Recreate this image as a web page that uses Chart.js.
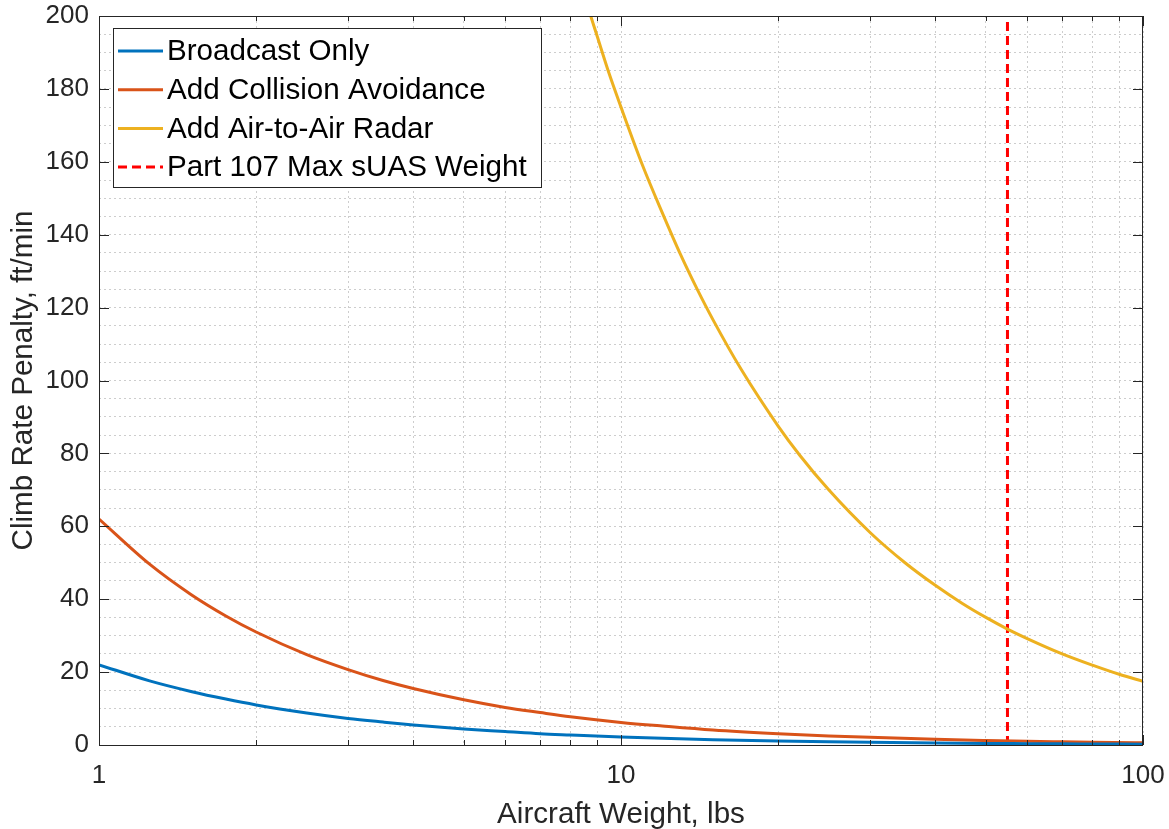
<!DOCTYPE html>
<html>
<head>
<meta charset="utf-8">
<script src="https://cdn.jsdelivr.net/npm/chart.js@4/dist/chart.umd.min.js"></script>
<style>
html,body{margin:0;padding:0;background:#fff;}
#wrap{width:1169px;height:829px;position:relative;}
</style>
</head>
<body>
<div id="wrap"><canvas id="c" width="1169" height="829"></canvas></div>
<script>
// Data
const seriesLabels = ['Broadcast Only','Add Collision Avoidance','Add Air-to-Air Radar','Part 107 Max sUAS Weight'];
const weightsLow = [1,1.25,1.5,1.75,2,2.5,3,3.5,4,5,6,7,8,10,12,15,20,25,30,40,50,60,70,80,100];
const broadcastOnly = [22,17.6,14.7,12.6,11,8.8,7.3,6.3,5.5,4.4,3.7,3.1,2.75,2.2,1.83,1.47,1.1,0.88,0.73,0.55,0.44,0.37,0.31,0.28,0.22];
const collisionAvoid = [62,49.6,41.3,35.4,31,24.8,20.7,17.7,15.5,12.4,10.3,8.9,7.75,6.2,5.2,4.1,3.1,2.5,2.1,1.55,1.24,1.03,0.89,0.78,0.62];
const weightsRadar = [8.75,9,9.5,10,11,12,13,14,15,17,20,22,25,30,35,40,45,50,55,60,70,80,90,100];
const airRadar = [200,194.5,184,175,159,146,134.6,125,116.7,103,87.5,79.5,70,58.3,50,43.8,38.9,35,31.8,29.2,25,21.9,19.4,17.5];
const maxWeightX = [55,55];
const maxWeightY = [0,200];
const xTickLabels = [1,10,100];
const yMajorStep = 20;
const colors = ['#0072BD','#D95319','#EDB120','#FF0000'];

const FONT = '"Liberation Sans", Arial, Helvetica, sans-serif';
const TXT = '#262626';
const GRID = '#cdcdcd';

function pts(xs, ys){ return xs.map((x,i)=>({x:x,y:ys[i]})); }

const xGridTicks = [];
[1,10].forEach(d=>{ for(let k=1;k<10;k++) xGridTicks.push(k*d); });
xGridTicks.push(100);

function zeroPad(s){ s.paddingLeft=0; s.paddingRight=0; s.paddingTop=0; s.paddingBottom=0; }

const boxTicks = {
  id:'boxTicks',
  afterDatasetsDraw(chart){
    const ctx = chart.ctx, a = chart.chartArea;
    const xs = chart.scales.x, ys = chart.scales.y;
    ctx.save();
    ctx.strokeStyle = TXT; ctx.lineWidth = 1;
    ctx.strokeRect(Math.round(a.left)+0.5, Math.round(a.top)+0.5, Math.round(a.right-a.left)-1, Math.round(a.bottom-a.top));
    ctx.beginPath();
    xGridTicks.forEach(v=>{
      const px = Math.round(xs.getPixelForValue(v))+0.5;
      const len = xTickLabels.includes(v) ? 10 : 5;
      ctx.moveTo(px, a.bottom); ctx.lineTo(px, a.bottom-len);
      ctx.moveTo(px, a.top); ctx.lineTo(px, a.top+len);
    });
    for(let v=0; v<=200; v+=yMajorStep){
      const py = Math.round(ys.getPixelForValue(v))+0.5;
      ctx.moveTo(a.left, py); ctx.lineTo(a.left+10, py);
      ctx.moveTo(a.right, py); ctx.lineTo(a.right-10, py);
    }
    ctx.stroke();
    // legend
    const lx=113, ly=28, lw=428, lh=159;
    ctx.fillStyle='#fff';
    ctx.fillRect(lx,ly,lw,lh);
    ctx.strokeStyle=TXT; ctx.lineWidth=1;
    ctx.strokeRect(lx+0.5,ly+0.5,lw,lh);
    ctx.font = '29.6px '+FONT;
    ctx.textBaseline='middle'; ctx.textAlign='left';
    chart.data.datasets.forEach((ds,i)=>{
      const y = 51 + i*38.7;
      ctx.strokeStyle = ds.borderColor; ctx.lineWidth = 3;
      ctx.setLineDash(ds.borderDash || []);
      ctx.beginPath(); ctx.moveTo(118,y); ctx.lineTo(163,y); ctx.stroke();
      ctx.setLineDash([]);
      ctx.fillStyle='#000';
      ctx.fillText(ds.label, 167, y+1);
    });
    ctx.restore();
  }
};

new Chart(document.getElementById('c'), {
  type:'line',
  data:{
    datasets:[
      {label:seriesLabels[0], data:pts(weightsLow,broadcastOnly), borderColor:colors[0], borderWidth:3, pointRadius:0, cubicInterpolationMode:'monotone', fill:false},
      {label:seriesLabels[1], data:pts(weightsLow,collisionAvoid), borderColor:colors[1], borderWidth:3, pointRadius:0, cubicInterpolationMode:'monotone', fill:false},
      {label:seriesLabels[2], data:pts(weightsRadar,airRadar), borderColor:colors[2], borderWidth:3, pointRadius:0, cubicInterpolationMode:'monotone', fill:false},
      {label:seriesLabels[3], data:pts(maxWeightX,maxWeightY), borderColor:colors[3], borderWidth:3, borderDash:[9,5], pointRadius:0, fill:false}
    ]
  },
  options:{
    responsive:false, animation:false,
    layout:{padding:{top:16,right:26,left:0,bottom:0}},
    plugins:{legend:{display:false}, tooltip:{enabled:false}},
    scales:{
      x:{
        type:'logarithmic', min:1, max:100,
        afterBuildTicks(s){ s.ticks = xGridTicks.map(v=>({value:v})); },
        afterFit(s){ s.height = 84; zeroPad(s); },
        ticks:{ autoSkip:false, maxRotation:0, color:TXT, font:{family:FONT,size:26}, padding:15,
          callback:(v)=> xTickLabels.includes(v) ? String(v) : '' },
        grid:{ color:GRID, drawTicks:false, lineWidth:1 },
        border:{display:false, dash:[2,3]},
        title:{display:true, text:'Aircraft Weight, lbs', color:TXT, font:{family:FONT,size:29.6}, padding:{top:0,bottom:-4}}
      },
      y:{
        type:'linear', min:0, max:200,
        afterBuildTicks(s){ const t=[]; for(let v=0; v<=200; v+=5) t.push({value:v}); s.ticks=t; },
        afterFit(s){ s.width = 99; zeroPad(s); },
        ticks:{ autoSkip:false, color:TXT, font:{family:FONT,size:26}, padding:10,
          callback:(v)=> v%yMajorStep===0 ? String(v) : '' },
        grid:{ color:GRID, drawTicks:false, lineWidth:1 },
        border:{display:false, dash:[2,3]},
        title:{display:true, text:'Climb Rate Penalty, ft/min', color:TXT, font:{family:FONT,size:29.6}, padding:{top:6,bottom:4}}
      }
    }
  },
  plugins:[boxTicks]
});
</script>
</body>
</html>
